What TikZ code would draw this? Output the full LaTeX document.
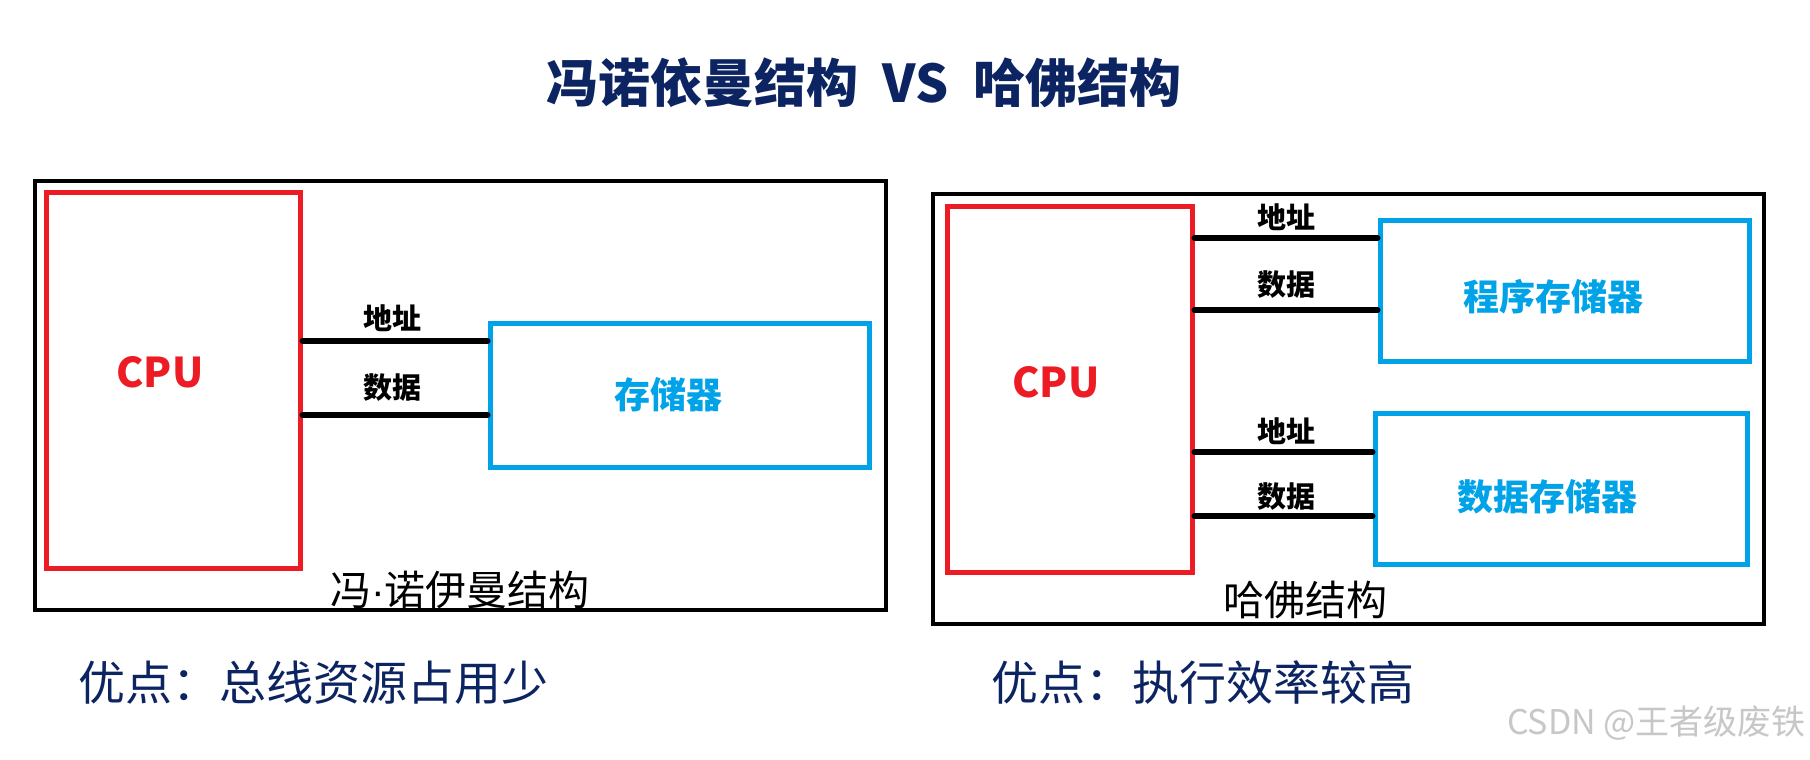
\documentclass[tikz,border=0pt]{standalone}
\usepackage{fontspec}
\setmainfont{Noto Sans CJK SC}
\newfontfamily\cjk{Noto Sans CJK SC}
\newfontfamily\latinfont{Liberation Sans}
\definecolor{navy}{HTML}{0C2461}
\definecolor{cpured}{HTML}{ED1C24}
\definecolor{memblue}{HTML}{00A2E8}
\tikzset{
  outerbox/.style={draw=black, line width=3.4pt, inner sep=0pt, fill=none},
  redbox/.style={draw=cpured, line width=5pt, inner sep=0pt},
  bluebox/.style={draw=memblue, line width=5pt, inner sep=0pt},
  bus/.style={draw=black, line width=6pt, line cap=round},
  buslabel/.style={font=\cjk\bfseries\fontsize{29}{32}\selectfont, inner sep=0pt},
  cpulabel/.style={font=\cjk\bfseries\fontsize{41}{46}\selectfont, text=cpured, inner sep=0pt},
  memlabel/.style={font=\cjk\bfseries\fontsize{36}{40}\selectfont, text=memblue, inner sep=0pt},
  caption/.style={font=\cjk\fontsize{41}{46}\selectfont, inner sep=0pt},
  merit/.style={font=\cjk\fontsize{47}{52}\selectfont, text=navy, inner sep=0pt, anchor=west},
}
\begin{document}
\begin{tikzpicture}[x=1pt, y=-1pt]
\useasboundingbox (0,0) rectangle (1810,760);
\fill[white] (0,0) rectangle (1810,760);

% title
\node[font=\cjk\bfseries\fontsize{52}{58}\selectfont, text=navy, inner sep=0pt] (title) at (864,83)
  {冯诺依曼结构\hspace{24pt}VS\hspace{24pt}哈佛结构};

% ---------- left: von Neumann ----------
\node[outerbox, minimum width=851, minimum height=429] (outerL) at (460.5,395.5) {};
\node[redbox, minimum width=254, minimum height=376] (cpuL) at (173,380) {};
\node[bluebox, minimum width=379, minimum height=144] (memL) at (679.5,395) {};
\draw[bus] (cpuL.east |- 0,341) -- (memL.west |- 0,341);
\draw[bus] (cpuL.east |- 0,415) -- (memL.west |- 0,415);
\node[buslabel] (addrL) at (392,318) {地址};
\node[buslabel] (dataL) at (392,388) {数据};
\node[cpulabel] (cpuLt) at (160,372) {CPU};
\node[memlabel] (memLt) at (668,395) {存储器};
\node[caption] (capL) at (460,590) {冯{\latinfont ·}诺伊曼结构};

% ---------- right: Harvard ----------
\node[outerbox, minimum width=831, minimum height=430] (outerR) at (1348.5,409) {};
\node[redbox, minimum width=245, minimum height=366] (cpuR) at (1069.5,389) {};
\node[bluebox, minimum width=369, minimum height=141] (progR) at (1564.5,290.5) {};
\node[bluebox, minimum width=372, minimum height=151] (dataR) at (1561,488.5) {};
\draw[bus] (cpuR.east |- 0,238) -- (progR.west |- 0,238);
\draw[bus] (cpuR.east |- 0,310) -- (progR.west |- 0,310);
\draw[bus] (cpuR.east |- 0,452) -- (dataR.west |- 0,452);
\draw[bus] (cpuR.east |- 0,516) -- (dataR.west |- 0,516);
\node[buslabel] (addrR1) at (1286,217) {地址};
\node[buslabel] (dataR1) at (1286,285) {数据};
\node[buslabel] (addrR2) at (1286,431) {地址};
\node[buslabel] (dataR2) at (1286,497) {数据};
\node[cpulabel] (cpuRt) at (1056,382) {CPU};
\node[memlabel] (progRt) at (1553,297) {程序存储器};
\node[memlabel] (dataRt) at (1547,497) {数据存储器};
\node[caption] (capR) at (1305,600) {哈佛结构};

% ---------- merits ----------
\node[merit] (meritL) at (78,683) {优点：总线资源占用少};
\node[merit] (meritR) at (991,683) {优点：执行效率较高};

% watermark
\node[font=\cjk\fontsize{34}{38}\selectfont, text=black!22, inner sep=0pt, anchor=east] (wm) at (1806,723) {CSDN @王者级废铁};
\end{tikzpicture}
\end{document}
